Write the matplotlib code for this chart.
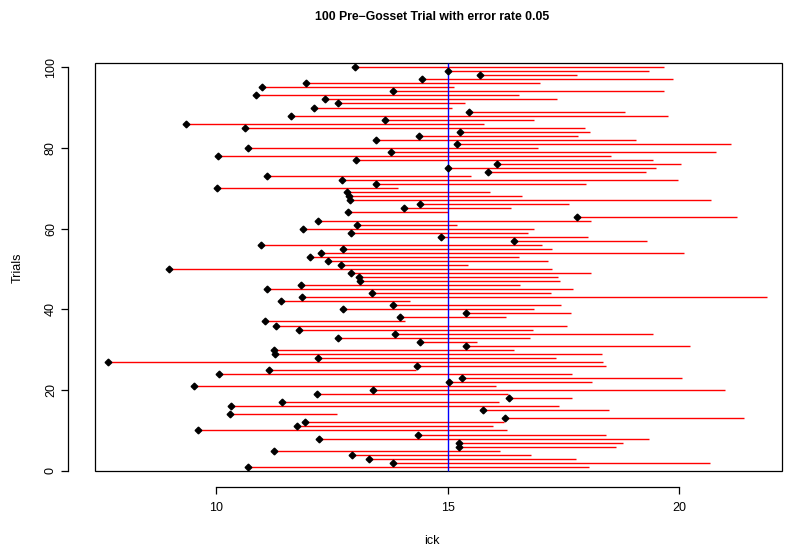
import matplotlib
matplotlib.use("Agg")
import matplotlib.pyplot as plt
from matplotlib.patches import Rectangle

plt.rcParams["font.family"] = ["Liberation Sans", "DejaVu Sans"]

# 每次试验：起点（黑点）与终点
trials = list(range(1, 101))
lower = [
    10.69, 13.82, 13.31, 12.94, 11.25, 15.25, 15.25, 12.22, 14.37, 9.60,
    11.75, 11.93, 16.25, 10.29, 15.76, 10.33, 11.43, 16.33, 12.19, 13.39,
    9.53, 15.04, 15.31, 10.07, 11.15, 14.34, 7.67, 12.21, 11.28, 11.26,
    15.39, 14.41, 12.64, 13.86, 11.79, 11.29, 11.06, 13.97, 15.40, 12.74,
    13.82, 11.41, 11.85, 13.36, 11.09, 11.84, 13.11, 13.08, 12.91, 8.99,
    12.69, 12.41, 12.03, 12.26, 12.75, 10.97, 16.44, 14.86, 12.92, 11.87,
    13.05, 12.21, 17.80, 12.84, 14.05, 14.40, 12.90, 12.87, 12.82, 10.03,
    13.46, 12.73, 11.10, 15.88, 15.00, 16.07, 13.02, 10.05, 13.77, 10.69,
    15.20, 13.46, 14.38, 15.26, 10.63, 9.36, 13.65, 11.62, 15.47, 12.12,
    12.64, 12.36, 10.86, 13.82, 10.99, 11.95, 14.45, 15.70, 15.00, 13.00,
]
upper = [
    18.05, 20.67, 17.77, 16.81, 16.13, 18.63, 18.79, 19.35, 18.42, 16.29,
    15.99, 16.21, 21.40, 12.62, 18.48, 17.40, 16.11, 17.70, 16.30, 21.00,
    16.04, 18.13, 20.06, 17.69, 14.31, 18.42, 18.36, 17.35, 18.34, 16.43,
    20.24, 15.64, 16.78, 19.44, 16.85, 17.59, 14.09, 16.27, 17.66, 16.86,
    17.46, 14.20, 21.90, 17.23, 17.72, 16.56, 17.43, 17.39, 18.09, 17.26,
    15.45, 17.17, 16.55, 20.10, 17.26, 17.05, 19.32, 18.03, 16.73, 16.86,
    15.21, 18.11, 21.25, 15.00, 16.37, 17.62, 20.69, 16.60, 15.91, 13.94,
    18.00, 19.97, 15.51, 19.28, 19.51, 20.05, 19.44, 18.54, 20.80, 16.95,
    21.12, 19.08, 17.81, 18.08, 17.97, 15.79, 16.86, 19.77, 18.83, 15.09,
    15.37, 17.37, 16.55, 19.68, 15.14, 17.00, 19.88, 17.79, 19.35, 19.68,
]
true_mean = 15
x_ticks = [10, 15, 20]
y_ticks = [0, 20, 40, 60, 80, 100]

fig = plt.figure(figsize=(7.98, 5.47), dpi=100)
ax = fig.add_axes([68 / 798, 60 / 547, 741 / 798, 436 / 547])
ax.set_xlim(6.80, 22.81)
ax.set_ylim(-4.0, 104.0)

# 外框
ax.add_patch(Rectangle((7.39, 0), 22.22 - 7.39, 101, fill=False,
                       edgecolor="black", linewidth=0.9, zorder=1))

ax.hlines(trials, lower, upper, colors="red", linewidth=1.0, zorder=2)
ax.plot(lower, trials, linestyle="none", marker="D", markersize=3.4,
        color="black", zorder=4)
ax.vlines(true_mean, 0, 101, colors="blue", linewidth=1.0, zorder=3)

for side in ("top", "right"):
    ax.spines[side].set_visible(False)
ax.spines["left"].set_bounds(0, 100)
ax.spines["bottom"].set_bounds(10, 20)
for side in ("left", "bottom"):
    ax.spines[side].set_linewidth(0.9)

ax.set_xticks(x_ticks)
ax.set_yticks(y_ticks)
ax.tick_params(axis="both", length=5, width=0.9, labelsize=9)
ax.tick_params(axis="x", pad=6)
ax.tick_params(axis="y", pad=3)
for lab in ax.get_yticklabels():
    lab.set_rotation(90)
    lab.set_va("center")

fig.text(432 / 798, 1 - 17 / 547, "100 Pre\u2212Gosset Trial with error rate 0.05",
         ha="center", va="center", fontsize=8.8, fontweight="bold")
fig.text(432 / 798, 1 - 541 / 547, "ick", ha="center", va="center", fontsize=9)
fig.text(18 / 798, 1 - 268 / 547, "Trials", ha="center", va="center",
         fontsize=9, rotation=90)

fig.savefig("out.png", dpi=100)
